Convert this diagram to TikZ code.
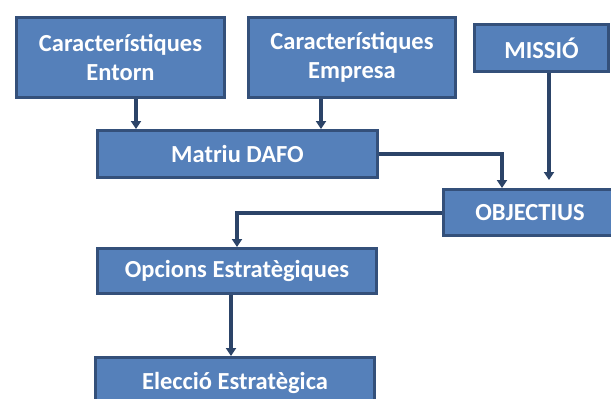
\documentclass[tikz,border=0pt]{standalone}
\usepackage{fontspec}
\setmainfont{Carlito}
\usepackage{xcolor}
\usepackage{tikz}
\usetikzlibrary{positioning, arrows.meta}
\definecolor{boxfill}{HTML}{5580BA}
\definecolor{boxline}{HTML}{34507A}
\definecolor{arrline}{HTML}{2C4468}
\tikzstyle{arrow} = [line width=4pt, arrline, -{Triangle[width=10pt,length=8pt]}]

\begin{document}
\begin{tikzpicture}[
			x=1pt, y=-1pt,
			box/.style={rectangle, draw=boxline, line width=3pt, fill=boxfill, text=white, align=center, inner sep=0pt, font=\fontsize{24.5}{29}\selectfont\bfseries}
			]
			\useasboundingbox (0,0) rectangle (611,399);
			\clip (0,0) rectangle (611,399);
			
			\node[box, minimum width=208pt, minimum height=80pt] (ent) at (120.5,57.5) {Característiques\\Entorn};
			\node[box, minimum width=207pt, minimum height=80pt] (emp) at (352,57.5) {Característiques\\Empresa};
			\node[box, minimum width=134pt, minimum height=47pt] (mis) at (541.5,48) {MISSIÓ};
			
			\node[box, minimum width=280pt, minimum height=47pt] (dafo) at (237.5,154) {Matriu DAFO};
			\node[box, minimum width=173pt, minimum height=46pt] (obj) at (530,212.5) {OBJECTIUS};
			
			\node[box, minimum width=279pt, minimum height=45pt] (opc) at (237,271) {Opcions Estratègiques};
			\node[box, minimum width=279pt, minimum height=51pt] (ele) at (235,383) {Elecció Estratègica};
			
			\draw[arrow] ([xshift=15.5pt]ent.south) -- ([xshift=15.5pt]ent.south |- dafo.north);
			\draw[arrow] ([xshift=-31pt]emp.south) -- ([xshift=-31pt]emp.south |- dafo.north);
			\draw[arrow, shorten >=8pt] ([xshift=7.5pt]mis.south) -- ([xshift=7.5pt]mis.south |- obj.north);
			
			\draw[arrow] (dafo.east) -| ([xshift=-28pt]obj.north);
			\draw[arrow] (obj.west) -| (opc.north);
			\draw[arrow] ([xshift=-6pt]opc.south) -- ([xshift=-6pt]opc.south |- ele.north);
		\end{tikzpicture}
\end{document}
